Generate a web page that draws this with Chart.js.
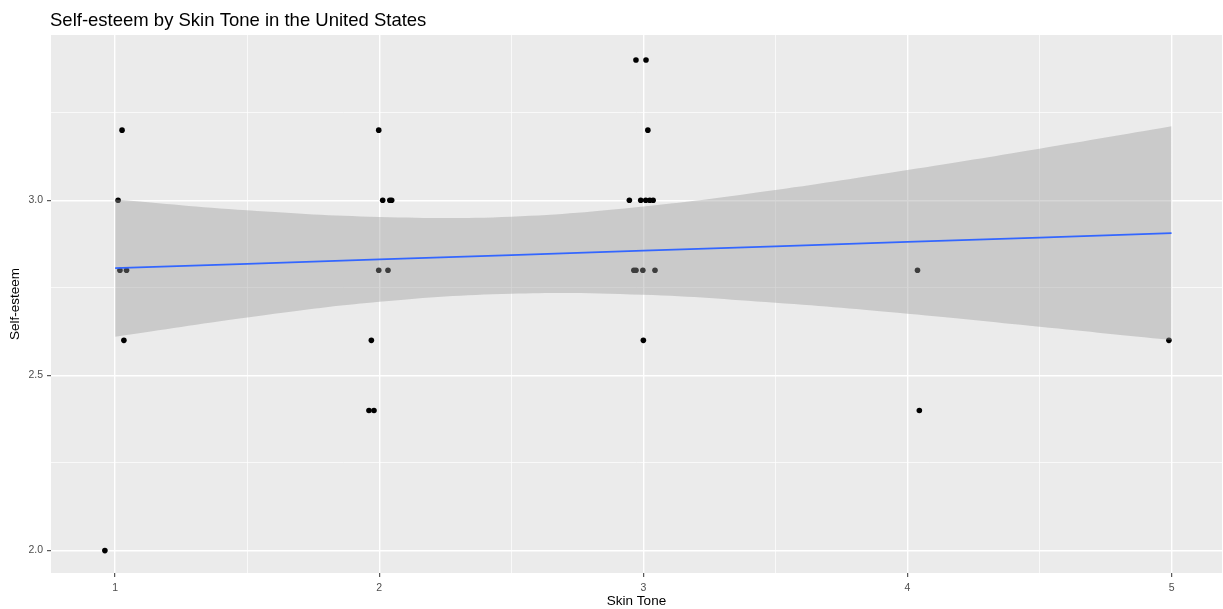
<!DOCTYPE html>
<html lang="en">
<head>
    <meta charset="UTF-8">
    <title>Self-esteem by Skin Tone in the United States</title>
    <script src="https://cdn.jsdelivr.net/npm/chart.js"></script>
    <style>
        body {
            margin: 0;
            padding: 0;
            background: #ffffff;
        }
        canvas {
            display: block;
        }
    </style>
</head>
<body>
    <canvas id="esteemChart" width="1223" height="609"></canvas>

    <script>
        // jittered points
        const skinTone = [
            0.961, 1.011, 1.026, 1.018, 1.043, 1.033,
            1.998, 2.013, 2.040, 2.047, 1.998, 2.033, 1.970, 1.961, 1.980,
            2.972, 3.010, 3.017, 2.947, 2.990, 3.009, 3.024, 3.037,
            2.964, 2.972, 2.998, 3.044, 3.000,
            4.038, 4.045,
            4.990
        ];
        const selfEsteem = [
            2.0, 3.0, 3.2, 2.8, 2.8, 2.6,
            3.2, 3.0, 3.0, 3.0, 2.8, 2.8, 2.6, 2.4, 2.4,
            3.4, 3.4, 3.2, 3.0, 3.0, 3.0, 3.0, 3.0,
            2.8, 2.8, 2.8, 2.8, 2.6,
            2.8, 2.4,
            2.6
        ];

        // fitted line and its confidence band
        const fitX = [1, 1.5, 2, 2.5, 3, 3.5, 4, 4.5, 5];
        const fitY = [2.806, 2.818, 2.831, 2.843, 2.856, 2.868, 2.881, 2.893, 2.906];
        const bandUpper = [3.002, 2.971, 2.952, 2.953, 2.982, 3.029, 3.086, 3.147, 3.211];
        const bandLower = [2.610, 2.665, 2.710, 2.733, 2.730, 2.707, 2.676, 2.639, 2.601];

        const xTicks = [1, 2, 3, 4, 5];
        const yTicks = [2.0, 2.5, 3.0];

        Chart.defaults.font.family = "'Liberation Sans', Arial, sans-serif";

        const pts = skinTone.map((x, i) => ({ x: x, y: selfEsteem[i] }));
        const fitPts = fitX.map((x, i) => ({ x: x, y: fitY[i] }));
        const upperPts = fitX.map((x, i) => ({ x: x, y: bandUpper[i] }));
        const lowerPts = fitX.map((x, i) => ({ x: x, y: bandLower[i] }));

        // grey panel + title
        const panelPlugin = {
            id: 'panel',
            beforeDraw(chart) {
                const { ctx, chartArea } = chart;
                ctx.save();
                ctx.fillStyle = '#EBEBEB';
                ctx.fillRect(chartArea.left, chartArea.top,
                    chartArea.right - chartArea.left, chartArea.bottom - chartArea.top);
                ctx.restore();
            },
            afterDraw(chart) {
                const ctx = chart.ctx;
                ctx.save();
                ctx.fillStyle = '#000000';
                ctx.font = "18.5px 'Liberation Sans', Arial, sans-serif";
                ctx.textBaseline = 'alphabetic';
                ctx.fillText('Self-esteem by Skin Tone in the United States', chart.chartArea.left - 1, 26);
                ctx.restore();
            }
        };

        function isMajorX(v) { return xTicks.some(t => Math.abs(t - v) < 1e-6); }
        function isMajorY(v) { return yTicks.some(t => Math.abs(t - v) < 1e-6); }

        new Chart(document.getElementById('esteemChart').getContext('2d'), {
            type: 'scatter',
            data: {
                datasets: [
                    {
                        type: 'scatter',
                        data: pts,
                        backgroundColor: '#000000',
                        borderWidth: 0,
                        pointRadius: 2.8,
                        order: 3
                    },
                    {
                        type: 'line',
                        data: lowerPts,
                        borderWidth: 0,
                        borderColor: 'transparent',
                        pointRadius: 0,
                        tension: 0.4,
                        fill: false,
                        order: 2
                    },
                    {
                        type: 'line',
                        data: upperPts,
                        borderWidth: 0,
                        borderColor: 'transparent',
                        backgroundColor: 'rgba(153, 153, 153, 0.4)',
                        pointRadius: 0,
                        tension: 0.4,
                        fill: '-1',
                        order: 2
                    },
                    {
                        type: 'line',
                        data: fitPts,
                        borderColor: '#3366FF',
                        borderWidth: 1.8,
                        pointRadius: 0,
                        fill: false,
                        order: 1
                    }
                ]
            },
            options: {
                responsive: false,
                animation: false,
                layout: {
                    autoPadding: false,
                    padding: { top: 35, right: 1, left: 0, bottom: 0 }
                },
                plugins: {
                    legend: { display: false },
                    tooltip: { enabled: false }
                },
                scales: {
                    x: {
                        type: 'linear',
                        min: 0.757,
                        max: 5.191,
                        afterFit(scale) {
                            scale.height = 36;
                            scale.paddingLeft = 0;
                            scale.paddingRight = 0;
                        },
                        border: { display: false },
                        grid: {
                            color: '#FFFFFF',
                            lineWidth: c => isMajorX(c.tick.value) ? 1.4 : 0.7,
                            tickColor: c => isMajorX(c.tick.value) ? '#333333' : 'transparent',
                            tickLength: 4,
                            tickWidth: 1
                        },
                        ticks: {
                            stepSize: 0.5,
                            includeBounds: false,
                            autoSkip: false,
                            maxRotation: 0,
                            padding: 5,
                            color: '#4D4D4D',
                            font: { size: 10.5 },
                            callback: v => isMajorX(v) ? String(Math.round(v)) : ''
                        },
                        title: {
                            display: true,
                            text: 'Skin Tone',
                            color: '#000000',
                            font: { size: 13.5 },
                            padding: { top: 0, bottom: 0 }
                        }
                    },
                    y: {
                        type: 'linear',
                        min: 1.936,
                        max: 3.4715,
                        afterFit(scale) {
                            scale.width = 51;
                            scale.paddingTop = 0;
                            scale.paddingBottom = 0;
                        },
                        border: { display: false },
                        grid: {
                            color: '#FFFFFF',
                            lineWidth: c => isMajorY(c.tick.value) ? 1.4 : 0.7,
                            tickColor: c => isMajorY(c.tick.value) ? '#333333' : 'transparent',
                            tickLength: 4,
                            tickWidth: 1
                        },
                        ticks: {
                            stepSize: 0.25,
                            includeBounds: false,
                            autoSkip: false,
                            padding: 4,
                            color: '#4D4D4D',
                            font: { size: 10.5 },
                            callback: v => isMajorY(v) ? v.toFixed(1) : ''
                        },
                        title: {
                            display: true,
                            text: 'Self-esteem',
                            color: '#000000',
                            font: { size: 13.5 },
                            padding: { top: 7, bottom: 0 }
                        }
                    }
                }
            },
            plugins: [panelPlugin]
        });
    </script>
</body>
</html>
